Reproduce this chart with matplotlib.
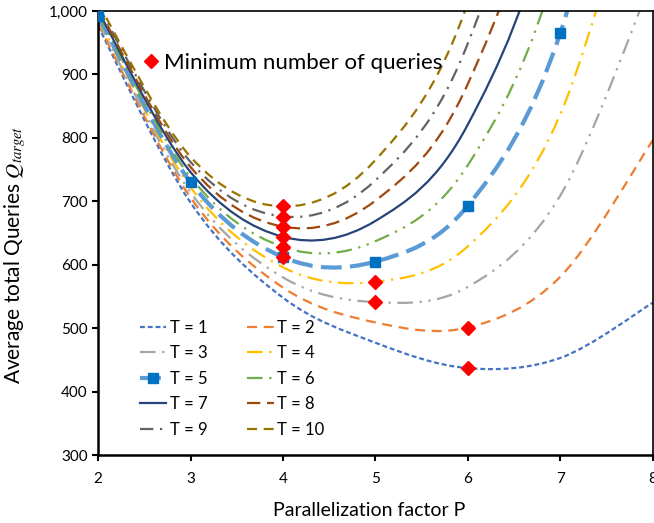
import numpy as np
import matplotlib
matplotlib.use("Agg")
import matplotlib.pyplot as plt
from matplotlib.path import Path
from matplotlib.patches import PathPatch
from matplotlib.lines import Line2D
from matplotlib.ticker import FuncFormatter

plt.rcParams['font.family'] = ['Lato', 'DejaVu Sans']
plt.rcParams['mathtext.fontset'] = 'stix'

# data (P = 2..8)
P = [2, 3, 4, 5, 6, 7, 8]
q_t1 = [976, 698, 548, 477, 437, 453, 540]
q_t2 = [980, 706, 564, 509, 501, 581, 796]
q_t3 = [984, 714, 580, 541, 565, 709, 1052]
q_t4 = [988, 722, 596, 573, 629, 837, 1308]
q_t5 = [992, 730, 612, 605, 693, 965, 1564]
q_t6 = [996, 738, 628, 637, 757, 1093, 1820]
q_t7 = [1000, 746, 644, 669, 821, 1221, 2076]
q_t8 = [1004, 754, 660, 701, 885, 1349, 2332]
q_t9 = [1008, 762, 676, 733, 949, 1477, 2588]
q_t10 = [1012, 770, 692, 765, 1013, 1605, 2844]

# minimum number of queries markers
min_p = [6, 6, 5, 5, 4, 4, 4, 4, 4, 4]
min_q = [437, 501, 541, 573, 612, 628, 644, 660, 676, 692]

series = [q_t1, q_t2, q_t3, q_t4, q_t5, q_t6, q_t7, q_t8, q_t9, q_t10]
labels = ['T = %d' % t for t in range(1, 11)]

# excel-ish styles
styles = [
    dict(color='#4472C4', lw=1.6, ls=(0, (2.2, 1.3))),
    dict(color='#ED7D31', lw=1.6, ls=(0, (4.5, 3))),
    dict(color='#A5A5A5', lw=1.6, ls=(0, (7, 3, 1, 3, 1, 3))),
    dict(color='#FFC000', lw=1.6, ls=(0, (7, 3, 1, 3))),
    dict(color='#5B9BD5', lw=3.0, ls=(0, (5, 2))),
    dict(color='#70AD47', lw=1.6, ls=(0, (7, 3, 1, 3, 1, 3))),
    dict(color='#264478', lw=1.6, ls='-'),
    dict(color='#9E480E', lw=1.6, ls=(0, (6, 3))),
    dict(color='#636363', lw=1.6, ls=(0, (6, 3, 1, 3))),
    dict(color='#997300', lw=1.6, ls=(0, (4.5, 3))),
]


def smooth_path(xs, ys):
    # bezier path through the points, like excel's smoothed line
    pts = np.column_stack([xs, ys]).astype(float)
    n = len(pts)
    verts = [pts[0]]
    codes = [Path.MOVETO]
    for i in range(n - 1):
        p0 = pts[max(i - 1, 0)]
        p1 = pts[i]
        p2 = pts[i + 1]
        p3 = pts[min(i + 2, n - 1)]
        verts += [p1 + (p2 - p0) / 6, p2 - (p3 - p1) / 6, p2]
        codes += [Path.CURVE4] * 3
    return Path(verts, codes)


fig = plt.figure(figsize=(6.54, 5.23), dpi=100)
ax = fig.add_axes([0.150, 0.130, 0.848, 0.849])

handles = []
for q, st, lab in zip(series, styles, labels):
    patch = PathPatch(smooth_path(P, q), fill=False, edgecolor=st['color'],
                      lw=st['lw'], linestyle=st['ls'], capstyle='butt')
    ax.add_patch(patch)
    if lab == 'T = 5':
        h = Line2D([], [], color=st['color'], lw=st['lw'], ls=st['ls'],
                   marker='s', markersize=6.5, markerfacecolor='#0070C0',
                   markeredgecolor='#0070C0')
    else:
        h = Line2D([], [], color=st['color'], lw=st['lw'], ls=st['ls'])
    handles.append(h)

# square markers of T = 5
ax.plot(P, q_t5, linestyle='none', marker='s', markersize=6.5,
        color='#0070C0', zorder=3)

# minimum markers
mins, = ax.plot(min_p, min_q, linestyle='none', marker='D', markersize=7,
                color='#FF0000', zorder=4)

ax.set_xlim(2, 8)
ax.set_ylim(300, 1000)
ax.set_yticks(range(300, 1001, 100))
ax.yaxis.set_major_formatter(FuncFormatter(lambda v, pos: f"{int(v):,}"))
ax.tick_params(axis='both', labelsize=11, direction='out', length=4, width=1.5)
ax.tick_params(axis='x', pad=8)
for s in ax.spines.values():
    s.set_linewidth(1.2)
ax.spines['left'].set_linewidth(1.8)
ax.spines['bottom'].set_linewidth(1.8)

ax.set_xlabel('Parallelization factor P', fontsize=14)
ax.xaxis.set_label_coords(0.488, -0.105)
ax.set_ylabel(r'Average total Queries $Q_{target}$', fontsize=15)
ax.yaxis.set_label_coords(-0.127, 0.45)

order = [0, 2, 4, 6, 8, 1, 3, 5, 7, 9]
leg = ax.legend([handles[i] for i in order], [labels[i] for i in order],
                ncol=2, loc='lower left', bbox_to_anchor=(0.075, 0.039),
                frameon=False, fontsize=12, handlelength=1.6,
                handletextpad=0.2, columnspacing=2.4, labelspacing=0.57,
                borderpad=0, borderaxespad=0)
ax.add_artist(leg)

ax.legend([mins], ['Minimum number of queries'], loc='upper left',
          bbox_to_anchor=(0.083, 0.905), frameon=False, fontsize=16,
          handlelength=0.6, handletextpad=0.3, borderpad=0, borderaxespad=0)

fig.savefig('out.png', dpi=100)
